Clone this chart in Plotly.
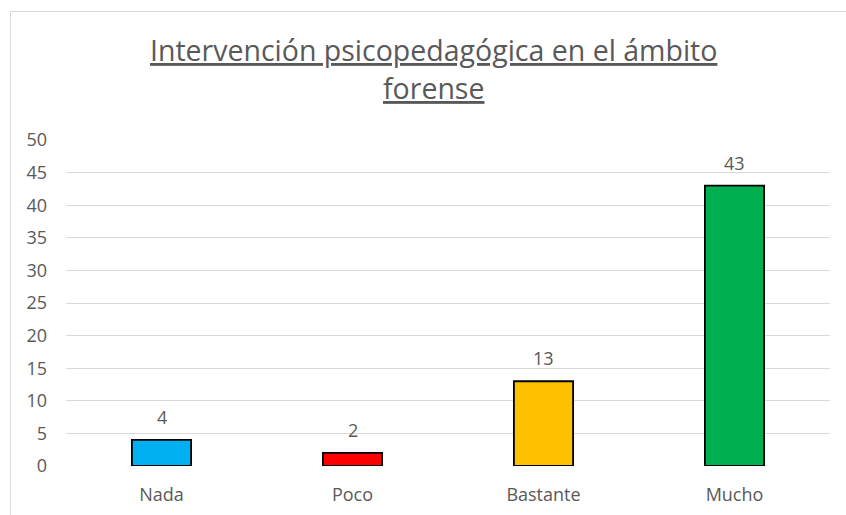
import plotly.graph_objects as go

categories = ["Nada", "Poco", "Bastante", "Mucho"]
values = [4, 2, 13, 43]
colors = ["#00B0F0", "#FF0000", "#FFC000", "#00B050"]
y_ticks = [0, 5, 10, 15, 20, 25, 30, 35, 40, 45, 50]
title_lines = ["Intervención psicopedagógica en el ámbito", "forense"]

FONT = "Open Sans"
GREY = "#595959"

W, H = 846, 515
ml, mr, mt, mb = 66, 16, 140, 49
ph = H - mt - mb
pw = W - ml - mr


def py(pix):
    return (H - mb - pix) / ph


def px(pix):
    return (pix - ml) / pw


fig = go.Figure()
fig.add_trace(go.Bar(
    x=categories, y=values,
    marker=dict(color=colors, line=dict(color="#000000", width=1.8)),
    width=0.31,
    hoverinfo="x+y",
))

annotations = []
for c, v in zip(categories, values):
    annotations.append(dict(
        x=c, y=v, xref="x", yref="y", text=str(v), showarrow=False,
        yanchor="bottom", yshift=9, font=dict(family=FONT, size=18, color=GREY),
    ))
for line, cy in zip(title_lines, [50, 88]):
    annotations.append(dict(
        x=px(433), y=py(cy), xref="paper", yref="paper",
        xanchor="center", yanchor="middle",
        text="<u>" + line + "</u>", showarrow=False,
        font=dict(family=FONT, size=28.5, color=GREY),
    ))

fig.add_shape(type="rect", xref="paper", yref="paper",
              x0=px(10.5), x1=px(880), y0=py(580), y1=py(11.5),
              line=dict(color="#D9D9D9", width=1), fillcolor="rgba(0,0,0,0)", layer="below")

fig.update_layout(
    width=W, height=H,
    margin=dict(l=ml, r=mr, t=mt, b=mb, pad=0, autoexpand=False),
    paper_bgcolor="white", plot_bgcolor="white",
    showlegend=False,
    annotations=annotations,
    font=dict(family=FONT, size=18, color=GREY),
    xaxis=dict(showline=False, showgrid=False, ticks="", zeroline=False, automargin=False,
               tickfont=dict(family=FONT, size=18, color=GREY), ticklabelstandoff=16),
    yaxis=dict(range=[0, 50], tickvals=y_ticks, showgrid=True, gridcolor="#D9D9D9",
               gridwidth=1, zeroline=False, showline=False, ticks="", automargin=False,
               tickfont=dict(family=FONT, size=18, color=GREY), ticklabelstandoff=18),
)

fig.write_html("out.html", config={"displayModeBar": False},
               post_script="document.body.style.margin='0';")
